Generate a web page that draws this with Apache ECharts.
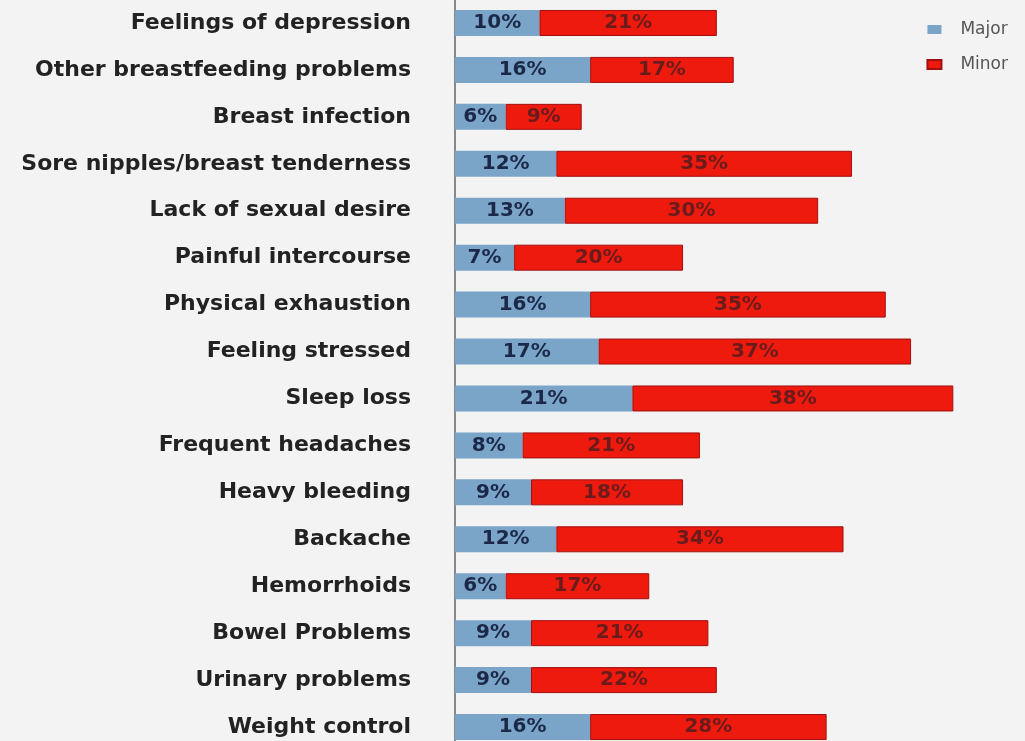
<!DOCTYPE html>
<html>
<head>
<meta charset="utf-8">
<script src="https://cdn.jsdelivr.net/npm/echarts@6/dist/echarts.min.js"></script>
<style>html,body{margin:0;padding:0;background:#f3f3f3;overflow:hidden;}#c{width:1025px;height:741px;}</style>
</head>
<body>
<div id="c"></div>
<script>
const categories = ["Feelings of depression","Other breastfeeding problems","Breast infection","Sore nipples/breast tenderness","Lack of sexual desire","Painful intercourse","Physical exhaustion","Feeling stressed","Sleep loss","Frequent headaches","Heavy bleeding","Backache","Hemorrhoids","Bowel Problems","Urinary problems","Weight control"];
const major = [10,16,6,12,13,7,16,17,21,8,9,12,6,9,9,16];
const minor = [21,17,9,35,30,20,35,37,38,21,18,34,17,21,22,28];
const seriesNames = ["Major","Minor"];

const chart = echarts.init(document.getElementById('c'));
chart.setOption({
  backgroundColor: '#f3f3f3',
  animation: false,
  grid: {left: 455, top: -0.5, width: 549, height: 751, containLabel: false, outerBoundsMode: 'none'},
  legend: {
    orient: 'vertical', right: 12, top: 16, itemWidth: 14, itemHeight: 9, itemGap: 18, icon: 'rect',
    textStyle: {color: '#555', fontSize: 17, fontFamily: 'DejaVu Sans', padding: [0, 0, 0, 14]},
    data: seriesNames
  },
  xAxis: {type: 'value', min: 0, max: 65, show: false},
  yAxis: {
    type: 'category', data: categories, inverse: true,
    axisLine: {show: true, lineStyle: {color: '#888', width: 2}},
    axisTick: {show: false},
    axisLabel: {margin: 44, fontSize: 22, fontWeight: 'bold', fontFamily: 'DejaVu Sans', color: '#222'}
  },
  series: [
    {name: seriesNames[0], type: 'bar', stack: 't', data: major, barWidth: 26,
     itemStyle: {color: '#7ba4c9'},
     label: {show: true, position: 'inside', formatter: '{c}%', fontSize: 20, fontWeight: 'bold', fontFamily: 'DejaVu Sans', color: '#1c2848'}},
    {name: seriesNames[1], type: 'bar', stack: 't', data: minor, barWidth: 26,
     itemStyle: {color: '#ee1a0e', borderColor: '#a01010', borderWidth: 1},
     label: {show: true, position: 'inside', formatter: '{c}%', fontSize: 20, fontWeight: 'bold', fontFamily: 'DejaVu Sans', color: '#6a1c1c'}}
  ]
});
</script>
</body>
</html>
